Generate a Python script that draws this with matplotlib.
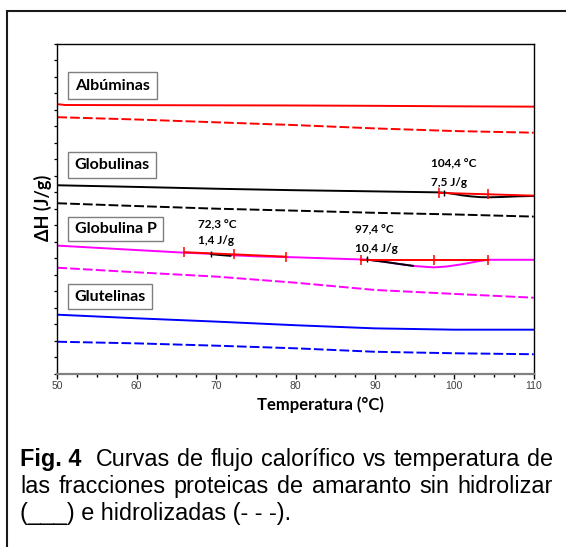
import matplotlib
matplotlib.use('Agg')
import matplotlib.pyplot as plt
from matplotlib.patches import Rectangle
import numpy as np

# ---- data ----
t_alb_s = [50, 51, 60, 70, 80, 90, 100, 110]
alb_s = [16.35, 16.3, 16.29, 16.28, 16.27, 16.25, 16.22, 16.2]
t_std = [50, 60, 70, 80, 90, 100, 110]
alb_h = [15.56, 15.42, 15.25, 15.08, 14.88, 14.72, 14.62]

t_glob_s = [50, 60, 70, 80, 90, 98, 99, 100, 101, 102, 103.3, 104.4, 106, 108, 110]
glob_s = [11.43, 11.33, 11.22, 11.13, 11.06, 11.0, 10.97, 10.9, 10.82, 10.76, 10.71, 10.70, 10.72, 10.76, 10.78]
glob_h = [10.34, 10.17, 10.01, 9.89, 9.76, 9.66, 9.53]

t_gp_s = [50, 60, 66, 70, 72.3, 75, 80, 85, 88.3, 89, 91, 93, 95, 97.4, 99, 101, 103, 104.2, 107, 110]
gp_s = [7.77, 7.5, 7.34, 7.26, 7.18, 7.12, 7.06, 6.98, 6.93, 6.92, 6.8, 6.66, 6.53, 6.45, 6.5, 6.64, 6.82, 6.91, 6.91, 6.91]
gp_h = [6.43, 6.15, 5.89, 5.52, 5.08, 4.84, 4.61]

glut_s = [3.58, 3.36, 3.16, 2.94, 2.75, 2.67, 2.67]
glut_h = [1.94, 1.84, 1.70, 1.54, 1.33, 1.24, 1.18]

# peak integration (baselines + black peak segments)
bl_gp1_t, bl_gp1 = [66, 78.8], [7.37, 7.10]
bl_gp1_marks = [66, 72.3, 78.8]
bl_gp2_t, bl_gp2 = [88.3, 104.2], [6.92, 6.92]
bl_gp2_marks = [88.3, 97.4, 104.2]
bl_glob_t, bl_glob = [98.1, 110], [10.97, 10.8]
bl_glob_marks = [98.1, 104.3]
pk_gp1_t, pk_gp1 = [69.4, 70.5, 71.8], [7.25, 7.2, 7.15]
pk_gp2_t, pk_gp2 = [89, 91, 93, 94.8], [6.92, 6.8, 6.66, 6.54]
start_marks = [(69.4, 7.27), (89, 6.93), (98.7, 10.99)]

fractions = ['Albúminas', 'Globulinas', 'Globulina P', 'Glutelinas']
peak_labels = [(97.1, 12.72, '104,4 °C'), (97.1, 11.59, '7,5 J/g'),
               (67.7, 9.06, '72,3 °C'), (67.7, 8.05, '1,4 J/g'),
               (87.5, 8.72, '97,4 °C'), (87.5, 7.61, '10,4 J/g')]

RED, MAG, BLU = '#ff0000', '#ff00ff', '#0000ff'
BOLD = ['Lato', 'DejaVu Sans']

fig = plt.figure(figsize=(5.66, 5.47), dpi=100)
W, H = 566, 547
ax = fig.add_axes([57.3 / W, 1 - 373.7 / H, 476.4 / W, 329.7 / H])

lw = 1.4
dash = dict(ls=(0, (5, 1.6)), lw=lw)
ax.plot(t_alb_s, alb_s, color=RED, lw=lw)
ax.plot(t_std, alb_h, color=RED, **dash)
ax.plot(t_glob_s, glob_s, color='black', lw=lw)
ax.plot(t_std, glob_h, color='black', **dash)
ax.plot(t_gp_s, gp_s, color=MAG, lw=lw)
ax.plot(t_std, gp_h, color=MAG, **dash)
ax.plot(t_std, glut_s, color=BLU, lw=lw)
ax.plot(t_std, glut_h, color=BLU, **dash)

ax.plot(pk_gp1_t, pk_gp1, color='black', lw=lw)
ax.plot(pk_gp2_t, pk_gp2, color='black', lw=lw)
for bt, bv, marks in [(bl_gp1_t, bl_gp1, bl_gp1_marks), (bl_gp2_t, bl_gp2, bl_gp2_marks),
                      (bl_glob_t, bl_glob, bl_glob_marks)]:
    ax.plot(bt, bv, color=RED, lw=lw)
    ax.plot(marks, np.interp(marks, bt, bv), ls='none', marker='|', ms=7, mew=1.1, color=RED)
for mx, my in start_marks:
    ax.plot([mx], [my], ls='none', marker='|', ms=5, mew=1, color='black')

for x, y, s in peak_labels:
    ax.text(x, y, s, fontsize=8.5, fontweight='bold', family=BOLD, va='center', ha='left')

# fraction label boxes (pixel positions in the reference)
boxes = [(68.3, 156.7, 72.3, 99.0), (68.3, 156.3, 151.7, 178.3),
         (68.3, 163.0, 217.3, 241.0), (68.3, 152.3, 284.3, 309.0)]
for name, (x0, x1, y0, y1) in zip(fractions, boxes):
    fx0 = (x0 - 57.3) / 476.4; fx1 = (x1 - 57.3) / 476.4
    fy0 = (373.7 - y1) / 329.7; fy1 = (373.7 - y0) / 329.7
    ax.add_patch(Rectangle((fx0, fy0), fx1 - fx0, fy1 - fy0, transform=ax.transAxes,
                           fc='white', ec='#7f7f7f', lw=1.0, zorder=5))
    ax.text(fx0 + 6.5 / 476.4, (fy0 + fy1) / 2, name, transform=ax.transAxes, fontsize=11.5,
            fontweight='bold', family=BOLD, va='center', ha='left', zorder=6)

ax.set_xlim(50, 110)
ax.set_ylim(0, 20)
ax.set_xticks(range(50, 111, 10))
ax.set_xticks(np.arange(50, 110.1, 2.5), minor=True)
ax.set_yticks(range(0, 21))
ax.set_yticklabels([])
ax.tick_params(axis='x', which='major', direction='out', length=3.5, width=1, pad=1.5,
               labelsize=7.5, labelcolor='#404040', color='black')
ax.tick_params(axis='x', which='minor', direction='out', length=1.8, width=1, color='black')
ax.tick_params(axis='y', direction='out', length=2.4, width=0.9)
for lab in ax.get_xticklabels():
    lab.set_family('Liberation Sans')
ax.spines['bottom'].set_color('#808080')
ax.spines['bottom'].set_linewidth(1.6)
for s in ('left', 'top', 'right'):
    ax.spines[s].set_linewidth(1.0)

fig.text(320 / W, 1 - 405 / H, 'Temperatura (°C)', fontsize=12, fontweight='bold', family=BOLD,
         ha='center', va='center')
fig.text(43 / W, 1 - 208 / H, 'ΔH (J/g)', fontsize=13, fontweight='bold', family=BOLD,
         ha='center', va='center', rotation=90)

# outer frame
fig.add_artist(Rectangle((7 / W, -0.1), 1.2, 1.1 - 11 / H, transform=fig.transFigure,
                         fill=False, ec='#1a1a1a', lw=1.5))

# caption, justified like the source
cap_lines = [
    [('Fig. 4', 'bold'), ('Curvas', 'normal'), ('de', 'normal'), ('flujo', 'normal'),
     ('calorífico', 'normal'), ('vs', 'normal'), ('temperatura', 'normal'), ('de', 'normal')],
    [(w, 'normal') for w in 'las fracciones proteicas de amaranto sin hidrolizar'.split()],
    [('(___) e hidrolizadas (- - -).', 'normal')],
]
cap_base = [466, 493, 520]
cap_x0, cap_x1 = 20, 553
renderer = fig.canvas.get_renderer()
for li, (words, ypx) in enumerate(zip(cap_lines, cap_base)):
    texts = [fig.text(0, 1 - ypx / H, w, fontsize=16.8, fontweight=fw, family='Liberation Sans',
                      va='baseline', ha='left') for w, fw in words]
    if li == len(cap_lines) - 1:
        texts[0].set_x(cap_x0 / W)
        continue
    widths = [t.get_window_extent(renderer).width for t in texts]
    weights = [2 if li == 0 and i == 0 else 1 for i in range(len(texts) - 1)]
    gap = (cap_x1 - cap_x0 - sum(widths)) / sum(weights)
    x = cap_x0
    for i, (t, w) in enumerate(zip(texts, widths)):
        t.set_x(x / W)
        if i < len(weights):
            x += w + gap * weights[i]

fig.savefig('out.png', dpi=100)
